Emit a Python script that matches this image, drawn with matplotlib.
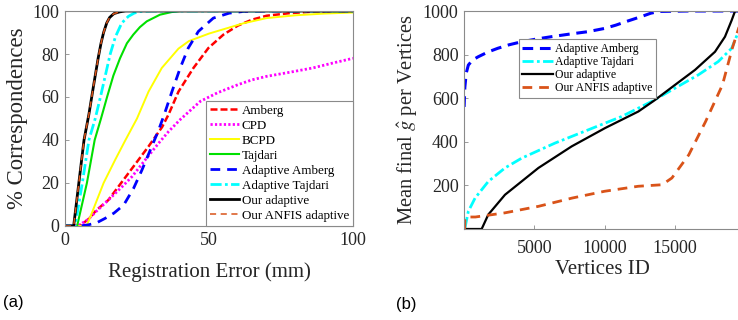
import numpy as np
import matplotlib
matplotlib.use('Agg')
import matplotlib.pyplot as plt

plt.rcParams['font.family'] = ['Liberation Serif', 'DejaVu Serif']
plt.rcParams['mathtext.fontset'] = 'stix'

# ---- (a) cumulative registration error ----
amberg_x = [0, 5, 8, 11, 15, 22, 29, 33.7, 36, 39.4, 44.6, 49.8, 55, 60, 65, 70, 78, 85, 100]
amberg_y = [0, 0, 3, 7.5, 12, 24.5, 37, 46, 52, 62.5, 73.5, 82.8, 89, 93.2, 96, 97.8, 99, 99.6, 100]

cpd_x = [0, 2, 5, 8, 11, 15, 20, 23.3, 28, 32.5, 36, 40, 47, 53, 60, 65, 70, 78, 86, 93, 100]
cpd_y = [0, 0, 0.5, 3, 7, 12, 18.5, 23, 31, 38.5, 44, 49.5, 58, 62, 65.7, 68, 69.6, 71.5, 73.5, 75.8, 78]

bcpd_x = [0, 7.5, 9.6, 13.4, 17.5, 21, 25, 29, 33.6, 39.4, 43, 50, 57, 62, 70, 80, 90, 100]
bcpd_y = [0, 0, 7, 20, 31, 40, 50, 62.5, 73.5, 82.5, 86, 89.5, 92.3, 94.3, 96.7, 98, 98.8, 99.3]

tajdari_x = [0, 4.2, 7.6, 10.3, 12.5, 14.6, 16.8, 19.1, 21.5, 23.7, 26, 28.4, 33, 37, 40, 100]
tajdari_y = [0, 0, 20, 40, 50, 60, 70, 78, 85, 89, 92.5, 95.2, 98.3, 99.5, 100, 100]

ad_amberg_x = [0, 5, 8, 11, 14, 17, 20.4, 23.8, 26.7, 29.6, 32.5, 34.5, 37, 40, 42.8, 46.3, 51.5, 57, 62, 70, 100]
ad_amberg_y = [0, 0, 0.5, 1.5, 3.6, 6, 9.8, 17.5, 26, 35.3, 44.6, 52, 62, 73.5, 82.8, 90.5, 96.7, 99, 99.8, 100, 100]

ad_tajdari_x = [0, 3.5, 6, 8.3, 10.5, 12.3, 14, 15.7, 17.5, 19.7, 22, 24, 26, 30, 100]
ad_tajdari_y = [0, 0, 20, 40, 50, 60, 70, 80, 88, 94.4, 97.5, 99, 99.8, 100, 100]

ours_x = [0, 3, 4.8, 6.6, 8.3, 10, 11.5, 12.5, 13.4, 14.5, 15.5, 17, 19, 21, 100]
ours_y = [0, 0, 20, 40, 52, 66, 78, 85, 90, 94.5, 97, 98.8, 99.6, 100, 100]

# ---- (b) mean final g-hat per vertex ----
b_amberg_x = [0, 50, 150, 300, 600, 1000, 1700, 2400, 3200, 4100, 5200, 6200, 7500, 8800,
              10000, 10800, 11700, 12600, 13300, 13900, 16000, 19600]
b_amberg_y = [560, 650, 715, 752, 775, 790, 812, 829, 845, 859, 872, 882, 894, 905,
              920, 935, 955, 974, 990, 998, 1000, 1000]

b_tajdari_x = [60, 300, 780, 1720, 2910, 4100, 6470, 8850, 11220, 13360, 15020, 16680, 18100, 19060, 19600]
b_tajdari_y = [5, 81, 142, 218, 280, 325, 394, 455, 516, 585, 646, 707, 768, 829, 915]

b_ours_x = [0, 1250, 1720, 2910, 5290, 7660, 10040, 12410, 13600, 15020, 16450, 17870, 18580, 19060, 19300, 19600]
b_ours_y = [0, 0, 66, 157, 280, 379, 463, 539, 592, 661, 730, 813, 882, 958, 1000, 1000]

b_anfis_x = [40, 60, 200, 800, 2900, 5300, 7700, 10000, 12400, 14100, 14800, 16000, 17200, 18400, 19100, 19600]
b_anfis_y = [0, 50, 55, 55, 74, 104, 142, 173, 196, 203, 234, 340, 493, 661, 829, 930]

ORANGE = '#D95319'
SPINE = '#8a8a8a'
TXT = '#262626'

fig = plt.figure(figsize=(7.38, 3.2), dpi=100)
ax1 = fig.add_axes([0.0881, 0.2938, 0.3902, 0.6718])
ax2 = fig.add_axes([0.6289, 0.2844, 0.3738, 0.6812])


def style(ax):
    for s in ax.spines.values():
        s.set_color(SPINE)
        s.set_linewidth(0.8)
    ax.tick_params(direction='in', length=3, width=0.6, color=SPINE,
                   labelcolor=TXT, labelsize=13, pad=4)


ax1.plot(amberg_x, amberg_y, color='red', lw=1.8, dashes=(2.8, 1.2), label='Amberg')
ax1.plot(cpd_x, cpd_y, color='magenta', lw=2, dashes=(0.8, 0.8), label='CPD')
ax1.plot(bcpd_x, bcpd_y, color='yellow', lw=1.4, label='BCPD')
ax1.plot(tajdari_x, tajdari_y, color='#00E000', lw=1.5, label='Tajdari')
ax1.plot(ad_amberg_x, ad_amberg_y, color='blue', lw=2, dashes=(3.5, 2.5), label='Adaptive Amberg')
ax1.plot(ad_tajdari_x, ad_tajdari_y, color='cyan', lw=2, dashes=(4, 1.2, 1, 1.2), label='Adaptive Tajdari')
ax1.plot(ours_x, ours_y, color='black', lw=2, label='Our adaptive')
ax1.plot(ours_x, ours_y, color=ORANGE, lw=1.1, dashes=(4, 3), label='Our ANFIS adaptive')
ax1.set_xlim(0, 100)
ax1.set_ylim(0, 100)
ax1.set_xticks([0, 50, 100])
ax1.set_yticks([0, 20, 40, 60, 80, 100])
style(ax1)
ax1.set_xlabel('Registration Error (mm)', fontsize=15, color=TXT, labelpad=10)
ax1.set_ylabel('% Correspondences', fontsize=16.4, color=TXT, labelpad=3)
leg1 = ax1.legend(loc='lower right', bbox_to_anchor=(1.0, 0.0), fontsize=9.4,
                  frameon=True, fancybox=False, framealpha=1, edgecolor=SPINE,
                  borderaxespad=0, handlelength=2.2, handletextpad=0.2,
                  labelspacing=0.22, borderpad=0.3)
leg1.get_frame().set_linewidth(0.8)

ax2.plot(b_amberg_x, b_amberg_y, color='blue', lw=2.2, dashes=(3.5, 2.2), label='Adaptive Amberg')
ax2.plot(b_tajdari_x, b_tajdari_y, color='cyan', lw=2, dashes=(4, 1.2, 1, 1.2), label='Adaptive Tajdari')
ax2.plot(b_ours_x, b_ours_y, color='black', lw=1.6, label='Our adaptive')
ax2.plot(b_anfis_x, b_anfis_y, color=ORANGE, lw=2, dashes=(3.5, 2.5), label='Our ANFIS adaptive')
ax2.set_xlim(0, 19650)
ax2.set_ylim(0, 1000)
ax2.set_xticks([5000, 10000, 15000])
ax2.set_yticks([200, 400, 600, 800, 1000])
style(ax2)
ax2.tick_params(axis='x', pad=8)
ax2.set_xlabel('Vertices ID', fontsize=15, color=TXT, labelpad=2)
ax2.set_ylabel(r'Mean final $\hat{g}$ per Vertices', fontsize=14.8, color=TXT, labelpad=2)
leg2 = ax2.legend(loc='upper left', bbox_to_anchor=(0.198, 0.87), fontsize=8.5,
                  frameon=True, fancybox=False, framealpha=1, edgecolor=SPINE,
                  borderaxespad=0, handlelength=2.6, handletextpad=0.2,
                  labelspacing=0.1, borderpad=0.3)
leg2.get_frame().set_linewidth(0.8)

fig.text(3 / 738, 1 - 302 / 320, '(a)', family='Liberation Sans', fontsize=12, va='center', ha='left')
fig.text(396 / 738, 1 - 305 / 320, '(b)', family='Liberation Sans', fontsize=12, va='center', ha='left')

fig.savefig('out.png', dpi=100)
